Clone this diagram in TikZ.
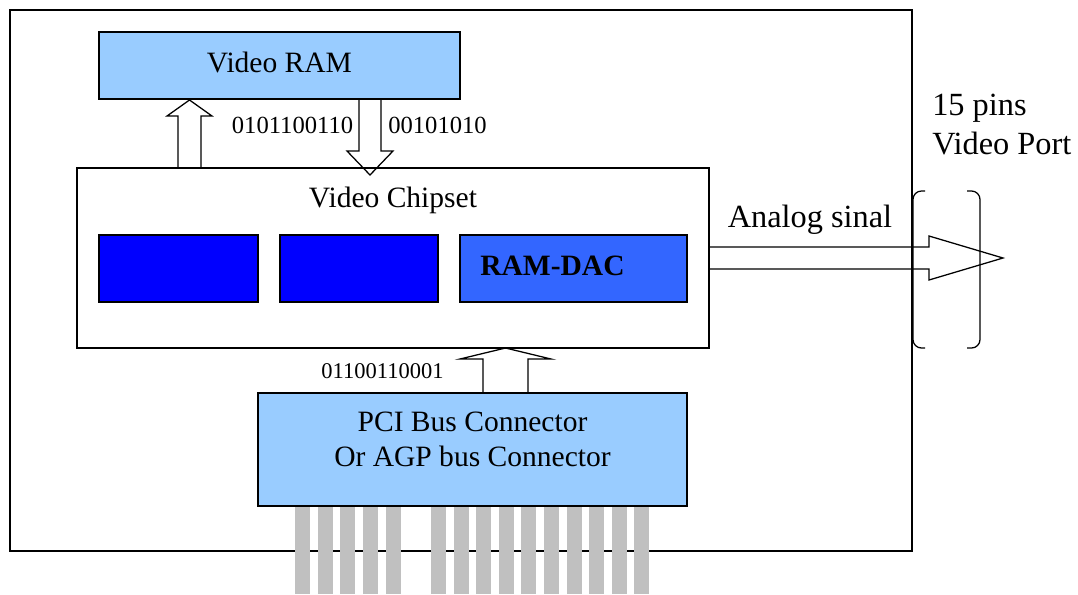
\documentclass[tikz,border=0pt]{standalone}
\usepackage{fontspec}
\setmainfont{Liberation Serif}
\usetikzlibrary{positioning,calc}

\newcommand\pxu{0.025cm}
\definecolor{ramblue}{HTML}{99CCFF}
\definecolor{unitblue}{HTML}{0000FF}
\definecolor{dacblue}{HTML}{3366FF}
\definecolor{pingray}{HTML}{C0C0C0}

\tikzset{
  box/.style={draw, line width=0.9pt, inner sep=0pt, outer sep=0pt},
  txt/.style={font=\fontsize{21}{25}\selectfont},
  bigtxt/.style={font=\fontsize{23}{27.7}\selectfont},
  bits/.style={font=\fontsize{17.5}{20}\selectfont},
  arrowline/.style={line width=0.9pt, line join=miter},
}

% block arrow: start, tip, half shaft, half head, head length (px)
\newcommand\blockarrow[5]{%
  \coordinate (h) at ($(#2)!#5*\pxu!(#1)$);
  \draw[arrowline] ($(#1)!#3*\pxu!90:(#2)$) -- ($(h)!#3*\pxu!90:(#2)$)
    -- ($(h)!#4*\pxu!90:(#2)$) -- (#2) -- ($(h)!#4*\pxu!-90:(#2)$)
    -- ($(h)!#3*\pxu!-90:(#2)$) -- ($(#1)!#3*\pxu!-90:(#2)$);}

\begin{document}
\begin{tikzpicture}[x=\pxu, y=-\pxu]
        \useasboundingbox (0,0) rectangle (1078,594);

        % Place nodes
        \node[box, minimum width=902*\pxu, minimum height=541*\pxu] (board) at (461,280.5) {};
        \node[box, fill=ramblue, minimum width=361*\pxu, minimum height=67*\pxu, txt, text depth=4.5pt] (ram) at (279.5,65.5) {Video RAM};
        \node[box, fill=white, minimum width=632*\pxu, minimum height=180*\pxu] (chip) at (393,258) {};
        \node[txt] (chiptitle) at ($(chip.north)+(0,32)$) {Video Chipset};
        \node[box, fill=unitblue, minimum width=159*\pxu, minimum height=67*\pxu] (unit1) at (178.5,268.5) {};
        \node[box, fill=unitblue, minimum width=158*\pxu, minimum height=67*\pxu, right=0.55cm of unit1] (unit2) {};
        \node[box, fill=dacblue, minimum width=227*\pxu, minimum height=67*\pxu, right=0.55cm of unit2] (dac) {};
        \node[txt, anchor=west, inner sep=0pt] (daclabel) at ([xshift=0.5cm, yshift=2pt]dac.west) {\bfseries RAM-DAC};
        \node[box, fill=ramblue, minimum width=429*\pxu, minimum height=113*\pxu] (pci) at (472.5,449.5) {};
        \node[txt, align=center] (pcitext) at ([yshift=7pt]pci.center) {PCI Bus Connector\\Or AGP bus Connector};

        % Labels
        \node[bits] (bitsa) at (292.5,125) {0101100110};
        \node[bits] (bitsb) at (437.5,125) {00101010};
        \node[bits, font=\fontsize{16}{19}\selectfont] (bitsc) at (382.5,371) {01100110001};
        \node[bigtxt] (analog) at (810,220) {Analog sinal};
        \node[bigtxt, anchor=west, align=left, inner sep=0pt] (portlabel) at (932,125) {15 pins\\Video Port};

        % Video port
        \coordinate (port) at (1003,258);
        \draw[arrowline, rounded corners=6pt] (925,191) -- (913,191) -- (913,348) -- (925,348);
        \draw[arrowline, rounded corners=6pt] (967,191) -- (980,191) -- (980,348) -- (967,348);

        % Draw edges
        \coordinate (c1) at ($(chip.north west)+(112.5,0)$);
        \coordinate (r1) at ($(ram.south west)+(90.5,1)$);
        \coordinate (r2) at ($(ram.south west)+(271,0)$);
        \coordinate (c2) at ($(chip.north west)+(293,7)$);
        \coordinate (p3) at ($(pci.north west)+(247.5,0)$);
        \coordinate (c3) at ($(chip.south west)+(428.5,0)$);
        \blockarrow{c1}{r1}{11.5}{22.5}{16}
        \blockarrow{r2}{c2}{11}{23}{24}
        \blockarrow{p3}{c3}{22.5}{45.5}{11}
        \blockarrow{chip.east}{port}{11}{22}{74}

        % Pins
        \foreach \i in {0,...,4}
            \fill[pingray] (295+22.7*\i,507) rectangle ++(15,87);
        \foreach \i in {0,...,9}
            \fill[pingray] (431+22.6*\i,507) rectangle ++(15,87);
\end{tikzpicture}
\end{document}
